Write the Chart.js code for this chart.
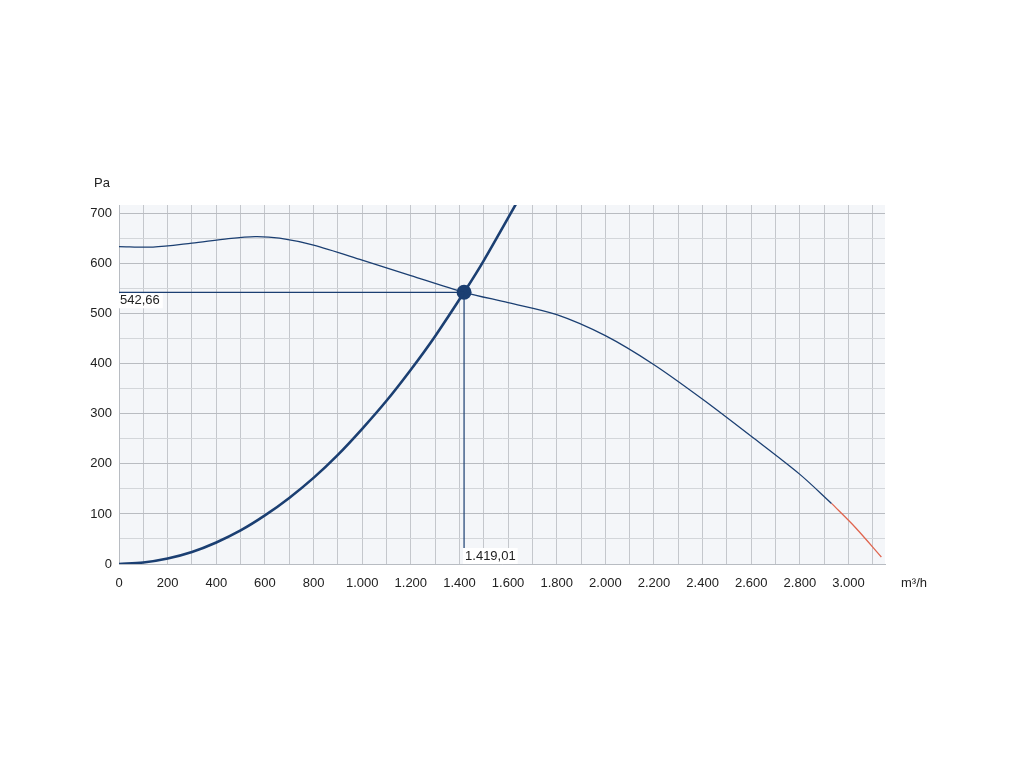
<!DOCTYPE html>
<html>
<head>
<meta charset="utf-8">
<script src="https://cdn.jsdelivr.net/npm/chart.js@4/dist/chart.umd.min.js"></script>
<style>
  html, body { margin: 0; padding: 0; background: #fff; }
  #wrap { width: 1024px; height: 768px; }
</style>
</head>
<body>
<div id="wrap"><canvas id="fanChart" width="1024" height="768"></canvas></div>
<script>
// fan curve (m³/h, Pa)
const fanFlow = [0, 140, 300, 450, 560, 660, 800, 1000, 1200, 1419.01, 1600, 1800, 2000, 2200, 2400, 2600, 2800, 2930];
const fanPressure = [634, 633, 641, 650, 654, 651, 637, 607, 576, 542.66, 522, 498, 456, 398, 329, 255, 179, 121];
// out-of-range end of the fan curve (red)
const tailFlow = [2930, 3030, 3135];
const tailPressure = [121, 72, 14];
// system curve
const sysFlow = [0, 100, 200, 300, 400, 500, 600, 700, 800, 900, 1000, 1100, 1200, 1300, 1419.01, 1500, 1650];
const sysPressure = [0, 3, 11, 24, 43, 67, 97, 132, 172, 218, 270, 326, 388, 455, 542.66, 606, 734];
// operating point
const opFlow = 1419.01;
const opPressure = 542.66;
const opLabels = ['1.419,01', '542,66'];
const unitX = 'm³/h';
const unitY = 'Pa';
const xTicks = [0, 100, 200, 300, 400, 500, 600, 700, 800, 900, 1000, 1100, 1200, 1300, 1400, 1500,
    1600, 1700, 1800, 1900, 2000, 2100, 2200, 2300, 2400, 2500, 2600, 2700, 2800, 2900, 3000, 3100];
const yTicks = [0, 50, 100, 150, 200, 250, 300, 350, 400, 450, 500, 550, 600, 650, 700];

const navy = '#1b3f72';
const fontFam = '"Liberation Sans", Arial, sans-serif';
const fmt = v => v.toLocaleString('de-DE');
const pts = (xs, ys) => xs.map((x, i) => ({ x: x, y: ys[i] }));

const plotBg = {
    id: 'plotBg',
    beforeDraw(chart) {
        const a = chart.chartArea, c = chart.ctx;
        c.save();
        c.fillStyle = '#f4f6f9';
        c.fillRect(a.left, a.top, a.right - a.left, a.bottom - a.top);
        c.restore();
    },
    afterDraw(chart) {
        const c = chart.ctx, a = chart.chartArea;
        const xs = chart.scales.x, ys = chart.scales.y;
        c.save();
        c.font = '13px ' + fontFam;
        c.fillStyle = '#222';
        c.textBaseline = 'middle';
        c.textAlign = 'left';
        c.fillText(unitY, a.left - 25, a.top - 22);
        c.fillText(unitX, a.right + 16, a.bottom + 19);

        // value labels with white boxes
        const px = xs.getPixelForValue(opFlow);
        const py = ys.getPixelForValue(opPressure);
        let w = c.measureText(opLabels[0]).width;
        c.fillStyle = '#fff';
        c.fillRect(px - 1, a.bottom - 16, w + 4, 16);
        c.fillStyle = '#222';
        c.fillText(opLabels[0], px + 1, a.bottom - 8);
        w = c.measureText(opLabels[1]).width;
        c.fillStyle = '#fff';
        c.fillRect(a.left, py + 1, w + 4, 15);
        c.fillStyle = '#222';
        c.fillText(opLabels[1], a.left + 1, py + 8);
        c.restore();
    }
};

new Chart(document.getElementById('fanChart'), {
    type: 'scatter',
    data: {
        datasets: [
            {
                data: [{ x: 0, y: opPressure }, { x: opFlow, y: opPressure }],
                showLine: true, borderColor: navy, borderWidth: 1.2, pointRadius: 0
            },
            {
                data: [{ x: opFlow, y: opPressure }, { x: opFlow, y: 32 }],
                showLine: true, borderColor: navy, borderWidth: 1.2, pointRadius: 0
            },
            {
                data: pts(fanFlow, fanPressure),
                showLine: true, borderColor: navy, borderWidth: 1.3, pointRadius: 0, tension: 0.3
            },
            {
                data: pts(tailFlow, tailPressure),
                showLine: true, borderColor: '#e0654f', borderWidth: 1.3, pointRadius: 0, tension: 0.3
            },
            {
                data: pts(sysFlow, sysPressure),
                showLine: true, borderColor: navy, borderWidth: 2.6, pointRadius: 0, tension: 0.3
            },
            {
                data: [{ x: opFlow, y: opPressure }],
                pointRadius: 7.5, backgroundColor: navy, borderWidth: 0
            },
            {
                data: [{ x: opFlow, y: opPressure }],
                pointRadius: 4.5, backgroundColor: '#2c5590', borderColor: '#e8eef6', borderWidth: 1.2
            }
        ]
    },
    options: {
        responsive: false,
        animation: false,
        events: [],
        layout: { padding: { left: 0, right: 139, top: 205, bottom: 174 } },
        plugins: { legend: { display: false }, tooltip: { enabled: false } },
        scales: {
            x: {
                type: 'linear', min: 0, max: 3150,
                afterFit: s => { s.height = 30; },
                afterBuildTicks: s => { s.ticks = xTicks.map(v => ({ value: v })); },
                grid: { color: '#c4c7cc', drawTicks: false },
                border: { color: '#b8bcc2' },
                ticks: {
                    autoSkip: false, maxRotation: 0, padding: 12,
                    color: '#222', font: { family: fontFam, size: 13 },
                    callback: v => (v % 200 === 0 ? fmt(v) : '')
                }
            },
            y: {
                type: 'linear', min: 0, max: 717,
                afterFit: s => { s.width = 119; },
                afterBuildTicks: s => { s.ticks = yTicks.map(v => ({ value: v })); },
                grid: {
                    drawTicks: false,
                    color: ctx => (ctx.tick && ctx.tick.value % 100 === 0 ? '#b9bcc1' : '#d3d6da')
                },
                border: { color: '#b8bcc2' },
                ticks: {
                    autoSkip: false, padding: 7,
                    color: '#222', font: { family: fontFam, size: 13 },
                    callback: v => (v % 100 === 0 ? fmt(v) : '')
                }
            }
        }
    },
    plugins: [plotBg]
});
</script>
</body>
</html>
